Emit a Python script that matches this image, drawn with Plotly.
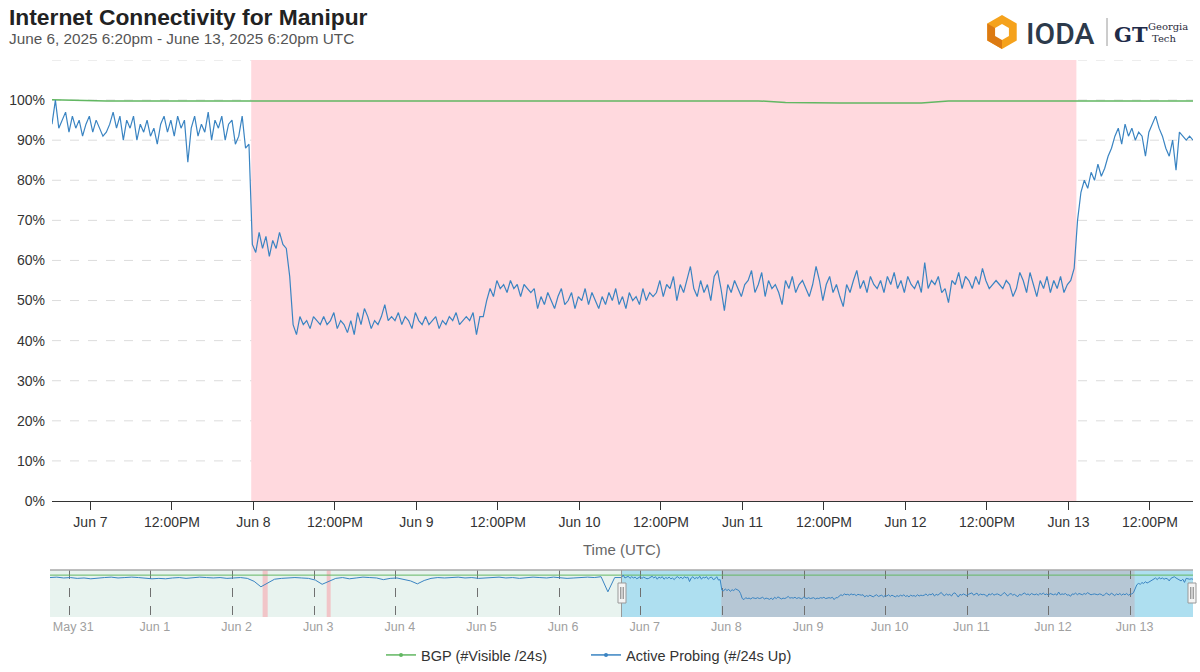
import math
import pandas as pd
import plotly.graph_objects as go

W, H = 1200, 672

# ---------------- data ----------------
# Active probing, % of /24s up, every 30 min from 2025-06-06 18:20 UTC
probing_pct = [
    # Jun 6 18:20 -> Jun 7 23:20
    94, 100, 93, 95, 97, 92, 96, 93, 95, 91, 94, 96, 92, 95, 93, 91, 92, 94, 97, 93,
    96, 90, 95, 93, 96, 90, 94, 92, 95, 91, 93, 89, 94, 96, 92, 95, 91, 96, 93, 95,
    84.5, 93, 96, 91, 94, 92, 97, 90, 95, 93, 96, 90, 94, 95, 89, 91, 96, 88, 89,
    # Jun 7 23:50 -> Jun 8 06:20
    64, 62, 67, 63, 66, 61, 65, 63, 67, 64, 63, 56, 44, 41.5,
    # Jun 8 06:50 -> Jun 9 09:50
    46, 44, 45, 43, 46, 45, 44, 46, 44, 45, 47, 43, 45, 44, 42, 45, 41.5, 47, 44, 48,
    46, 43, 45, 44, 46, 49, 45, 46, 45, 47, 44, 46, 45, 43, 47, 45, 44, 46, 44, 45,
    46, 43, 45, 44, 46, 45, 47, 44, 45, 46, 45, 47, 41.5, 46, 46,
    # Jun 9 10:20 -> Jun 9 17:20
    50, 53, 51, 55, 53, 54, 52, 55, 53, 54, 51, 54, 53, 52, 53, 48,
    # Jun 9 17:50 -> Jun 10 10:20
    51, 49, 52, 50, 48, 51, 53, 49, 50, 52, 48, 51, 50, 53, 49, 52, 50, 48, 51, 49,
    52, 50, 53, 49, 51, 48, 52, 50, 51, 49, 53, 50, 52, 51,
    # Jun 10 10:50 -> Jun 11 13:50
    52, 55, 51, 54, 53, 56, 50, 54, 52, 55, 58.5, 53, 51, 55, 52, 54, 50, 56, 57.5, 53,
    47.5, 54, 52, 55, 53, 51, 54, 55, 57.5, 52, 54, 57, 51, 55, 53, 54, 52, 49, 55, 53,
    56, 52, 54, 55, 53, 51, 54, 58.5, 55, 50, 54, 56, 52, 54, 51,
    # Jun 11 14:20 -> Jun 13 00:20
    48.5, 54, 52, 55, 57.5, 53, 55, 52, 56, 54, 53, 55, 52, 56, 54, 57, 53, 55, 52, 56,
    54, 53, 55, 52, 59.5, 53, 55, 54, 56, 52, 53, 49.5, 55, 54, 57, 53, 56, 55, 53, 56,
    54, 58, 55, 53, 54, 55, 54, 53, 55, 54, 51, 53, 57, 55, 52, 57, 54, 51, 55, 53,
    56, 52, 55, 53, 56, 52, 54, 55,
    # Jun 13 00:50 -> Jun 13 18:20
    58, 70, 77, 80, 78, 82, 80, 84, 81, 83, 86, 88,
    91, 93, 89, 94, 91, 93, 90, 92, 91, 86, 92, 94, 96, 93, 91, 88, 86, 90, 82.5, 92,
    91, 90, 91, 90,
]

# BGP, % of /24s visible, every 4 h from 2025-06-06 18:20 UTC
bgp_pct = [
    100.1, 99.9, 99.8, 99.8, 99.8, 99.8, 99.8, 99.8, 99.8, 99.8,
    99.8, 99.8, 99.8, 99.8, 99.8, 99.8, 99.8, 99.8, 99.8, 99.8,
    99.8, 99.8, 99.8, 99.8, 99.8, 99.8, 99.8, 99.4, 99.3, 99.3,
    99.3, 99.3, 99.3, 99.8, 99.8, 99.8, 99.8, 99.8, 99.8, 99.8,
    99.8, 99.8, 99.8,
]

# Navigator history (previous week): active probing every 2 h from 2025-05-30 18:20
history_probing_pct = [
    94, 95, 93, 94, 92, 93, 91, 93, 94, 95, 93, 94,
    95, 94, 93, 91, 92, 91, 93, 94, 92, 93, 95, 94,
    93, 94, 92, 93, 94, 92, 85, 72, 80, 90, 92, 93,
    94, 93, 92, 88, 78, 85, 92, 94, 91, 93, 95, 94,
    93, 89, 92, 93, 90, 86, 79, 87, 92, 94, 93, 94,
    95, 93, 94, 92, 93, 94, 95, 93, 94, 92, 94, 95,
    94, 93, 95, 94, 92, 93, 94, 95, 94, 96, 60, 94,
]
# Navigator history: BGP daily from 2025-05-30 18:20
history_bgp_pct = [99.8, 99.8, 99.8, 99.8, 99.8, 99.8, 99.8]

main_tick_dates = ["2025-06-07 00:00", "2025-06-07 12:00", "2025-06-08 00:00", "2025-06-08 12:00",
                   "2025-06-09 00:00", "2025-06-09 12:00", "2025-06-10 00:00", "2025-06-10 12:00",
                   "2025-06-11 00:00", "2025-06-11 12:00", "2025-06-12 00:00", "2025-06-12 12:00",
                   "2025-06-13 00:00", "2025-06-13 12:00"]
main_tick_labels = ["Jun 7", "12:00PM", "Jun 8", "12:00PM", "Jun 9", "12:00PM", "Jun 10", "12:00PM",
                    "Jun 11", "12:00PM", "Jun 12", "12:00PM", "Jun 13", "12:00PM"]
y_tick_values = [0, 10, 20, 30, 40, 50, 60, 70, 80, 90, 100]
y_tick_labels = ["0%", "10%", "20%", "30%", "40%", "50%", "60%", "70%", "80%", "90%", "100%"]
y_grid_values = [10, 20, 30, 40, 50, 60, 70, 80, 90, 100, 110]
nav_tick_dates = ["2025-05-31", "2025-06-01", "2025-06-02", "2025-06-03", "2025-06-04", "2025-06-05",
                  "2025-06-06", "2025-06-07", "2025-06-08", "2025-06-09", "2025-06-10", "2025-06-11",
                  "2025-06-12", "2025-06-13"]
nav_tick_labels = ["May 31", "Jun 1", "Jun 2", "Jun 3", "Jun 4", "Jun 5", "Jun 6", "Jun 7",
                   "Jun 8", "Jun 9", "Jun 10", "Jun 11", "Jun 12", "Jun 13"]

outage_main = ("2025-06-07 23:40", "2025-06-13 01:10")
outage_history = [("2025-06-02 08:50", "2025-06-02 10:20"), ("2025-06-03 03:40", "2025-06-03 04:50")]

view_start, view_end = "2025-06-06 18:20", "2025-06-13 18:20"
nav_start = "2025-05-30 18:20"

# ---------------- build ----------------
probing_times = pd.date_range(view_start, periods=len(probing_pct), freq="30min")
bgp_times = pd.date_range(view_start, periods=len(bgp_pct), freq="4h")
hist_times = pd.date_range(nav_start, periods=len(history_probing_pct), freq="2h")
hist_bgp_times = pd.date_range(nav_start, periods=len(history_bgp_pct), freq="1D")

BLUE = "#3a84c2"
GREEN = "#62b762"
FONT = "Liberation Sans, Arial, sans-serif"


def px(x):
    return x / W


def py(y):
    return 1 - y / H


fig = go.Figure()

fig.add_trace(go.Scatter(x=bgp_times, y=bgp_pct, mode="lines", line=dict(color=GREEN, width=1.5),
                         showlegend=False, hoverinfo="skip", xaxis="x", yaxis="y"))
fig.add_trace(go.Scatter(x=probing_times, y=probing_pct, mode="lines", line=dict(color=BLUE, width=1.2),
                         showlegend=False, hoverinfo="skip", xaxis="x", yaxis="y"))

# navigator
fig.add_trace(go.Scatter(x=list(hist_bgp_times) + list(bgp_times), y=history_bgp_pct + bgp_pct,
                         mode="lines", line=dict(color=GREEN, width=1), showlegend=False,
                         hoverinfo="skip", xaxis="x2", yaxis="y2"))
fig.add_trace(go.Scatter(x=list(hist_times) + list(probing_times), y=history_probing_pct + probing_pct,
                         mode="lines", line=dict(color=BLUE, width=1), showlegend=False,
                         hoverinfo="skip", xaxis="x2", yaxis="y2"))

# legend entries
fig.add_trace(go.Scatter(x=[None], y=[None], mode="lines+markers", name="BGP (#Visible /24s)",
                         line=dict(color=GREEN, width=1.5), marker=dict(color=GREEN, size=4),
                         legend="legend"))
fig.add_trace(go.Scatter(x=[None], y=[None], mode="lines+markers", name="Active Probing (#/24s Up)",
                         line=dict(color=BLUE, width=1.5), marker=dict(color=BLUE, size=4),
                         legend="legend2"))

shapes = []
# main horizontal dashed gridlines (drawn first, then covered by the outage band)
for gv in y_grid_values:
    shapes.append(dict(type="line", xref="x domain", yref="y", x0=0, x1=1, y0=gv, y1=gv,
                       line=dict(color="#dcdcdc", width=1, dash="dash"), layer="below"))
# main outage band
shapes.append(dict(type="rect", xref="x", yref="y domain", x0=outage_main[0], x1=outage_main[1],
                   y0=0, y1=1, fillcolor="#ffd9de", line=dict(width=0), layer="below"))
# navigator backgrounds
shapes.append(dict(type="rect", xref="x2", yref="y2 domain", x0=nav_start, x1=view_start, y0=0, y1=1,
                   fillcolor="#e8f3ef", line=dict(width=0), layer="below"))
shapes.append(dict(type="rect", xref="x2", yref="y2 domain", x0=view_start, x1=view_end, y0=0, y1=1,
                   fillcolor="#aedff0", line=dict(width=0), layer="below"))
shapes.append(dict(type="rect", xref="x2", yref="y2 domain", x0=outage_main[0], x1=outage_main[1],
                   y0=0, y1=1, fillcolor="#b6c7d5", line=dict(width=0), layer="below"))
for a, b in outage_history:
    shapes.append(dict(type="rect", xref="x2", yref="y2 domain", x0=a, x1=b, y0=0, y1=1,
                       fillcolor="#f1c5c8", line=dict(width=0), layer="below"))
# navigator top border and selection edge
shapes.append(dict(type="line", xref="x2 domain", yref="y2 domain", x0=0, x1=1, y0=1, y1=1,
                   line=dict(color="#a8a8a8", width=1.5)))
shapes.append(dict(type="line", xref="x2", yref="y2 domain", x0=view_start, x1=view_start, y0=0, y1=1,
                   line=dict(color="#999999", width=1)))
# handles
for hx in (622, 1192):
    shapes.append(dict(type="rect", xref="paper", yref="paper", x0=px(hx - 4), x1=px(hx + 4),
                       y0=py(603), y1=py(583), fillcolor="#f4f4f4", line=dict(color="#999999", width=1),
                       layer="above"))
    for dx in (-1.2, 1.2):
        shapes.append(dict(type="line", xref="paper", yref="paper", x0=px(hx + dx), x1=px(hx + dx),
                           y0=py(599), y1=py(587), line=dict(color="#777777", width=1), layer="above"))

# ---- IODA logo (hexagon nut) ----
cx, cy = 1002, 32


def hexpts(r):
    pts = []
    for k in range(6):
        ang = math.radians(90 + 60 * k)
        pts.append((cx + r * math.cos(ang), cy - r * math.sin(ang)))
    return pts


def topath(pts):
    return "M " + " L ".join(f"{px(x):.5f},{py(y):.5f}" for x, y in pts) + " Z"


outer_pts = hexpts(17)
inner_pts = hexpts(8)
shapes.append(dict(type="path", xref="paper", yref="paper", path=topath(outer_pts), fillcolor="#f5a21c",
                   line=dict(width=0), layer="above"))
dark_pts = [outer_pts[1], outer_pts[2], outer_pts[3], (cx, cy)]
shapes.append(dict(type="path", xref="paper", yref="paper", path=topath(dark_pts), fillcolor="#dc7a12",
                   line=dict(width=0), layer="above"))
shapes.append(dict(type="path", xref="paper", yref="paper", path=topath(inner_pts), fillcolor="#ffffff",
                   line=dict(width=0), layer="above"))
# divider
shapes.append(dict(type="line", xref="paper", yref="paper", x0=px(1107), x1=px(1107), y0=py(18), y1=py(46),
                   line=dict(color="#9a9a9a", width=1), layer="above"))

annotations = [
    dict(text="<b>Internet Connectivity for Manipur</b>", xref="paper", yref="paper", x=px(7), y=py(17),
         xanchor="left", yanchor="middle", showarrow=False, font=dict(family=FONT, size=22.8, color="#222222")),
    dict(text="June 6, 2025 6:20pm - June 13, 2025 6:20pm UTC", xref="paper", yref="paper", x=px(7),
         y=py(38), xanchor="left", yanchor="middle", showarrow=False,
         font=dict(family=FONT, size=15.3, color="#555555")),
    dict(text="Time (UTC)", xref="paper", yref="paper", x=px(622), y=py(549), xanchor="center",
         yanchor="middle", showarrow=False, font=dict(family=FONT, size=15, color="#666666")),
    dict(text="IODA", xref="paper", yref="paper", x=px(1024), y=py(33), xanchor="left", yanchor="middle",
         showarrow=False, font=dict(family="Roboto, sans-serif", size=30, color="#2c3a4b", weight=500)),
    dict(text="<b>GT</b>", xref="paper", yref="paper", x=px(1112), y=py(34), xanchor="left",
         yanchor="middle", showarrow=False, font=dict(family="DejaVu Serif, serif", size=21, color="#1f2b49")),
    dict(text="Georgia", xref="paper", yref="paper", x=px(1146), y=py(27), xanchor="left", yanchor="middle",
         showarrow=False, font=dict(family="DejaVu Serif, serif", size=10, color="#2a2a3a")),
    dict(text="Tech", xref="paper", yref="paper", x=px(1150), y=py(38), xanchor="left", yanchor="middle",
         showarrow=False, font=dict(family="DejaVu Serif, serif", size=10, color="#2a2a3a")),
]

legend_common = dict(orientation="h", yanchor="middle", y=py(655), xanchor="left",
                     font=dict(family=FONT, size=14.5, color="#333333"), bgcolor="rgba(0,0,0,0)")

fig.update_layout(
    width=W, height=H,
    margin=dict(l=0, r=0, t=0, b=0),
    paper_bgcolor="white", plot_bgcolor="white",
    font=dict(family=FONT, size=14, color="#333333"),
    xaxis=dict(domain=[px(52), px(1193)], range=[view_start, view_end], type="date",
               tickvals=main_tick_dates, ticktext=main_tick_labels, ticks="outside", ticklen=8,
               tickcolor="#333333", tickwidth=1, showline=True, linecolor="#333333", linewidth=1,
               showgrid=False, zeroline=False, automargin=False,
               tickfont=dict(family=FONT, size=14, color="#333333"), anchor="y"),
    yaxis=dict(domain=[py(501), py(60)], range=[0, 110], tickvals=y_tick_values, ticktext=y_tick_labels,
               showgrid=False, zeroline=False, showline=False, ticks="", ticklabelstandoff=6,
               automargin=False, tickfont=dict(family=FONT, size=14, color="#333333"), anchor="x"),
    xaxis2=dict(domain=[px(50), px(1193)], range=[nav_start, view_end], type="date",
                tickvals=nav_tick_dates, ticktext=nav_tick_labels, ticks="", showline=False,
                showgrid=True, gridcolor="#707070", griddash="dash", gridwidth=1, zeroline=False,
                ticklabelshift=4, automargin=False,
                tickfont=dict(family=FONT, size=12.5, color="#a0a0a0"), anchor="y2"),
    yaxis2=dict(domain=[py(617), py(570)], range=[0, 112], showgrid=False, showticklabels=False,
                zeroline=False, showline=False, ticks="", automargin=False, anchor="x2"),
    legend=dict(x=px(381), **legend_common),
    legend2=dict(x=px(586), **legend_common),
    shapes=shapes,
    annotations=annotations,
)

fig.write_html("out.html")
